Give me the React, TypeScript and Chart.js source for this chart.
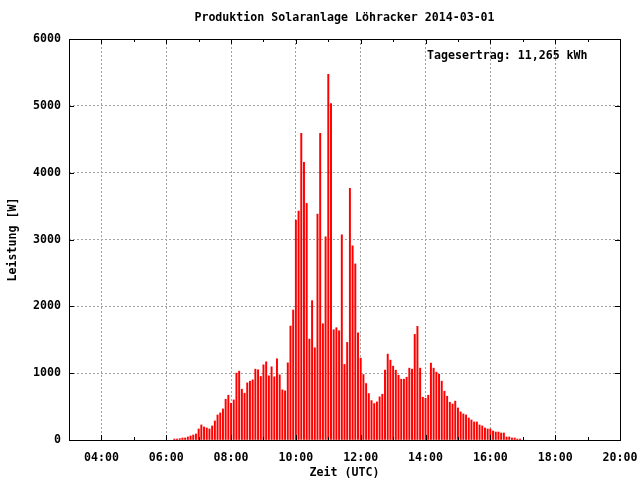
import React, { useEffect, useRef } from "react";
import { Chart, registerables } from "chart.js";

Chart.register(...registerables);

const TITLE = "Produktion Solaranlage Löhracker 2014-03-01";
const X_TITLE = "Zeit (UTC)";
const Y_TITLE = "Leistung [W]";
const ANNOTATION = "Tagesertrag: 11,265 kWh";

const times = [
  "06:15", "06:20", "06:25", "06:30", "06:35", "06:40", "06:45", "06:50", "06:55",
  "07:00", "07:05", "07:10", "07:15", "07:20", "07:25", "07:30", "07:35", "07:40", "07:45", "07:50", "07:55",
  "08:00", "08:05", "08:10", "08:15", "08:20", "08:25", "08:30", "08:35", "08:40", "08:45", "08:50", "08:55",
  "09:00", "09:05", "09:10", "09:15", "09:20", "09:25", "09:30", "09:35", "09:40", "09:45", "09:50", "09:55",
  "10:00", "10:05", "10:10", "10:15", "10:20", "10:25", "10:30", "10:35", "10:40", "10:45", "10:50", "10:55",
  "11:00", "11:05", "11:10", "11:15", "11:20", "11:25", "11:30", "11:35", "11:40", "11:45", "11:50", "11:55",
  "12:00", "12:05", "12:10", "12:15", "12:20", "12:25", "12:30", "12:35", "12:40", "12:45", "12:50", "12:55",
  "13:00", "13:05", "13:10", "13:15", "13:20", "13:25", "13:30", "13:35", "13:40", "13:45", "13:50", "13:55",
  "14:00", "14:05", "14:10", "14:15", "14:20", "14:25", "14:30", "14:35", "14:40", "14:45", "14:50", "14:55",
  "15:00", "15:05", "15:10", "15:15", "15:20", "15:25", "15:30", "15:35", "15:40", "15:45", "15:50", "15:55",
  "16:00", "16:05", "16:10", "16:15", "16:20", "16:25", "16:30", "16:35", "16:40", "16:45", "16:50", "16:55",
];

const power = [
  15, 15, 20, 30, 30, 45, 60, 75, 90,
  165, 225, 195, 180, 165, 210, 285, 375, 405, 465, 610, 670,
  550, 600, 1000, 1030, 760, 700, 855, 880, 900, 1060, 1050, 950,
  1125, 1170, 960, 1095, 945, 1215, 975, 750, 735, 1155, 1705, 1945,
  3290, 3425, 4590, 4155, 3540, 1510, 2085, 1380, 3380, 4590, 1740, 3040,
  5470, 5035, 1650, 1680, 1635, 3070, 1130, 1460, 3765, 2905, 2635, 1605,
  1225, 980, 845, 695, 590, 545, 570, 645, 685, 1045, 1285, 1195,
  1105, 1045, 970, 910, 910, 940, 1075, 1060, 1580, 1700, 1075, 640,
  625, 670, 1150, 1075, 1015, 985, 880, 730, 655, 565, 538, 582,
  480, 420, 390, 375, 330, 300, 270, 270, 225, 210, 180, 165,
  165, 135, 120, 120, 105, 105, 45, 45, 30, 30, 15, 15,
];

const xMajorHours = [4, 6, 8, 10, 12, 14, 16, 18, 20];
const xMinorHours = [5, 7, 9, 11, 13, 15, 17, 19];
const yTickValues = [0, 1000, 2000, 3000, 4000, 5000, 6000];

const FONT = "'DejaVu Sans Mono', 'Liberation Mono', monospace";

function toHours(t: string): number {
  const [h, m] = t.split(":").map(Number);
  return h + m / 60;
}

function fmtHour(v: number): string {
  return String(v).padStart(2, "0") + ":00";
}

const gnuplotPlugin = {
  id: "gnuplotDecor",
  afterDraw(chart: any) {
    const { ctx, chartArea } = chart;
    const xs = chart.scales.x;
    const ys = chart.scales.y;
    const L = chartArea.left, R = chartArea.right, T = chartArea.top, B = chartArea.bottom;
    ctx.save();
    ctx.strokeStyle = "#000";
    ctx.lineWidth = 1;
    ctx.setLineDash([]);
    ctx.strokeRect(Math.round(L) + 0.5, Math.round(T) + 0.5, Math.round(R - L), Math.round(B - T));
    ctx.beginPath();
    const major = 5, minor = 3;
    xMajorHours.forEach((h) => {
      const px = Math.round(xs.getPixelForValue(h)) + 0.5;
      ctx.moveTo(px, B); ctx.lineTo(px, B - major);
      ctx.moveTo(px, T); ctx.lineTo(px, T + major);
    });
    xMinorHours.forEach((h) => {
      const px = Math.round(xs.getPixelForValue(h)) + 0.5;
      ctx.moveTo(px, B); ctx.lineTo(px, B - minor);
      ctx.moveTo(px, T); ctx.lineTo(px, T + minor);
    });
    yTickValues.forEach((v) => {
      const py = Math.round(ys.getPixelForValue(v)) + 0.5;
      ctx.moveTo(L, py); ctx.lineTo(L + major, py);
      ctx.moveTo(R, py); ctx.lineTo(R - major, py);
    });
    ctx.stroke();

    ctx.fillStyle = "#000";
    ctx.font = `bold 11.6px ${FONT}`;
    ctx.textBaseline = "middle";
    ctx.textAlign = "center";
    const cx = (L + R) / 2;
    ctx.fillText(TITLE, cx, 18);
    ctx.fillText(X_TITLE, cx, 473);
    ctx.save();
    ctx.translate(13, (T + B) / 2);
    ctx.rotate(-Math.PI / 2);
    ctx.fillText(Y_TITLE, 0, 0);
    ctx.restore();
    ctx.textAlign = "left";
    ctx.fillText(ANNOTATION, R - 193, T + 17);
    ctx.restore();
  },
};

export default function App() {
  const ref = useRef<HTMLCanvasElement>(null);

  useEffect(() => {
    if (!ref.current) return;
    const data = times.map((t, i) => ({ x: toHours(t), y: power[i] }));
    const chart = new Chart(ref.current, {
      type: "bar",
      data: {
        datasets: [
          {
            data: data as any,
            backgroundColor: "#ff0000",
            borderWidth: 0,
            barThickness: 1.3,
          },
        ],
      },
      options: {
        animation: false,
        responsive: false,
        devicePixelRatio: 1,
        layout: { padding: { top: 39, right: 20, left: 0, bottom: 0 } },
        plugins: {
          legend: { display: false },
          title: { display: false },
          tooltip: { enabled: false },
        },
        scales: {
          x: {
            type: "linear",
            min: 3,
            max: 20,
            offset: false,
            afterBuildTicks: (s: any) => {
              s.ticks = xMajorHours.map((v) => ({ value: v }));
            },
            afterFit: (s: any) => {
              s.height = 40;
              s.paddingLeft = 0;
              s.paddingRight = 0;
            },
            ticks: {
              autoSkip: false,
              maxRotation: 0,
              padding: 11,
              color: "#000",
              font: { family: FONT, size: 11.6, weight: "bold" },
              callback: (v: any) => fmtHour(Number(v)),
            },
            grid: {
              offset: false,
              drawTicks: false,
              color: (c: any) => (c.tick && c.tick.value < 20 ? "#a0a0a0" : "rgba(0,0,0,0)"),
              lineWidth: 1,
            },
            border: { display: false, dash: [2, 2] },
          },
          y: {
            type: "linear",
            min: 0,
            max: 6000,
            afterBuildTicks: (s: any) => {
              s.ticks = yTickValues.map((v) => ({ value: v }));
            },
            afterFit: (s: any) => {
              s.width = 69;
              s.paddingTop = 0;
              s.paddingBottom = 0;
            },
            ticks: {
              padding: 8,
              color: "#000",
              font: { family: FONT, size: 11.6, weight: "bold" },
              callback: (v: any) => String(v),
            },
            grid: {
              drawTicks: false,
              color: (c: any) =>
                c.tick && c.tick.value > 0 && c.tick.value < 6000 ? "#a0a0a0" : "rgba(0,0,0,0)",
              lineWidth: 1,
            },
            border: { display: false, dash: [2, 2] },
          },
        },
      },
      plugins: [gnuplotPlugin],
    });
    return () => chart.destroy();
  }, []);

  return (
    <div style={{ position: "absolute", left: 0, top: 0, width: 640, height: 480, background: "#fff" }}>
      <canvas ref={ref} width={640} height={480} style={{ display: "block", width: 640, height: 480 }} />
    </div>
  );
}
